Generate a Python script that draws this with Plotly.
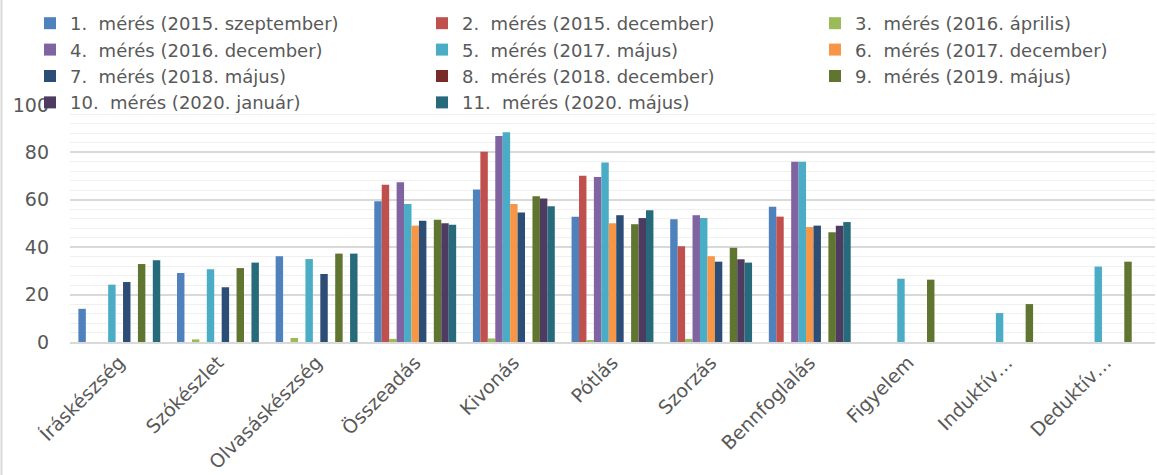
import plotly.graph_objects as go

categories = ["Íráskészség", "Szókészlet", "Olvasáskészség", "Összeadás", "Kivonás",
              "Pótlás", "Szorzás", "Bennfoglalás", "Figyelem", "Induktív…", "Deduktív…"]

series_names = [
    "1.  mérés (2015. szeptember)",
    "2.  mérés (2015. december)",
    "3.  mérés (2016. április)",
    "4.  mérés (2016. december)",
    "5.  mérés (2017. május)",
    "6.  mérés (2017. december)",
    "7.  mérés (2018. május)",
    "8.  mérés (2018. december)",
    "9.  mérés (2019. május)",
    "10.  mérés (2020. január)",
    "11.  mérés (2020. május)",
]

m1 = [14.0, 29.1, 36.2, 59.4, 64.3, 52.9, 51.8, 57.1, None, None, None]
m2 = [None, None, None, 66.4, 80.3, 70.2, 40.4, 52.9, None, None, None]
m3 = [None, 1.1, 1.7, 1.3, 1.5, 0.8, 1.3, None, None, None, None]
m4 = [None, None, None, 67.4, 86.9, 69.6, 53.5, 76.1, None, None, None]
m5 = [24.2, 30.7, 35.0, 58.2, 88.5, 75.7, 52.3, 76.1, 26.7, 12.2, 31.8]
m6 = [None, None, None, 49.1, 58.2, 50.1, 36.2, 48.5, None, None, None]
m7 = [25.3, 23.1, 28.7, 51.2, 54.6, 53.5, 33.9, 49.1, None, None, None]
m8 = [None, None, None, None, None, None, None, None, None, None, None]
m9 = [32.9, 31.2, 37.3, 51.6, 61.5, 49.7, 39.8, 46.3, 26.3, 16.0, 33.9]
m10 = [None, None, None, 50.1, 60.5, 52.3, 34.9, 49.1, None, None, None]
m11 = [34.5, 33.5, 37.3, 49.5, 57.3, 55.6, 33.5, 50.6, None, None, None]

series_values = [m1, m2, m3, m4, m5, m6, m7, m8, m9, m10, m11]

colors = ["#4F81BD", "#C0504D", "#9BBB59", "#8064A2", "#4BACC6", "#F79646",
          "#2C4D75", "#772C2A", "#5F7530", "#4D3B62", "#276A7C"]

y_ticks = [0, 20, 40, 60, 80, 100]

FONT = "DejaVu Sans"
TXT = "#595959"

W, H = 1157, 475
ml, mr, mt, mb = 70, 2, 105, 133
plot_w = W - ml - mr
plot_h = H - mt - mb

# legend entries are laid out in three columns, row by row
legend_ids = ["legend", "legend2", "legend3"]

fig = go.Figure()
for i, (name, vals, col) in enumerate(zip(series_names, series_values, colors)):
    fig.add_trace(go.Bar(x=categories, y=vals, name=name, legend=legend_ids[i % 3],
                         marker=dict(color=col, line=dict(width=0))))

legend_top = 1.422
legend_common = dict(orientation="v", y=legend_top, yanchor="top", xanchor="left",
                     bgcolor="rgba(0,0,0,0)", itemwidth=30, tracegroupgap=0,
                     font=dict(family=FONT, size=18, color=TXT))
text_starts = [71, 463, 856]
legend_x = [(t - 41 - ml) / plot_w for t in text_starts]

fig.update_layout(
    width=W, height=H,
    margin=dict(l=ml, r=mr, t=mt, b=mb, autoexpand=False),
    paper_bgcolor="white", plot_bgcolor="white",
    barmode="group", bargap=0.17, bargroupgap=0,
    font=dict(family=FONT, size=18, color=TXT),
    legend=dict(x=legend_x[0], **legend_common),
    legend2=dict(x=legend_x[1], **legend_common),
    legend3=dict(x=legend_x[2], **legend_common),
    showlegend=True,
)

fig.update_yaxes(range=[0, 100], tickvals=y_ticks, ticktext=[str(v) for v in y_ticks],
                 showgrid=True, gridcolor="#D9D9D9", gridwidth=1.5,
                 minor=dict(dtick=4, showgrid=True, gridcolor="#F0F0F0", gridwidth=1),
                 zeroline=False, showline=False, ticks="",
                 tickfont=dict(family=FONT, size=19, color=TXT), ticklabelstandoff=20)
fig.update_xaxes(type="category", tickangle=-45, showline=True, linecolor="#D9D9D9",
                 linewidth=2, ticks="", tickfont=dict(family=FONT, size=19, color=TXT))

# light frame line on the left edge of the chart area
fig.add_shape(type="line", xref="paper", yref="paper",
              x0=-(ml - 1.5) / plot_w, x1=-(ml - 1.5) / plot_w,
              y0=-mb / plot_h, y1=(H - mb) / plot_h,
              line=dict(color="#D9D9D9", width=2))

fig.write_html("out.html")
